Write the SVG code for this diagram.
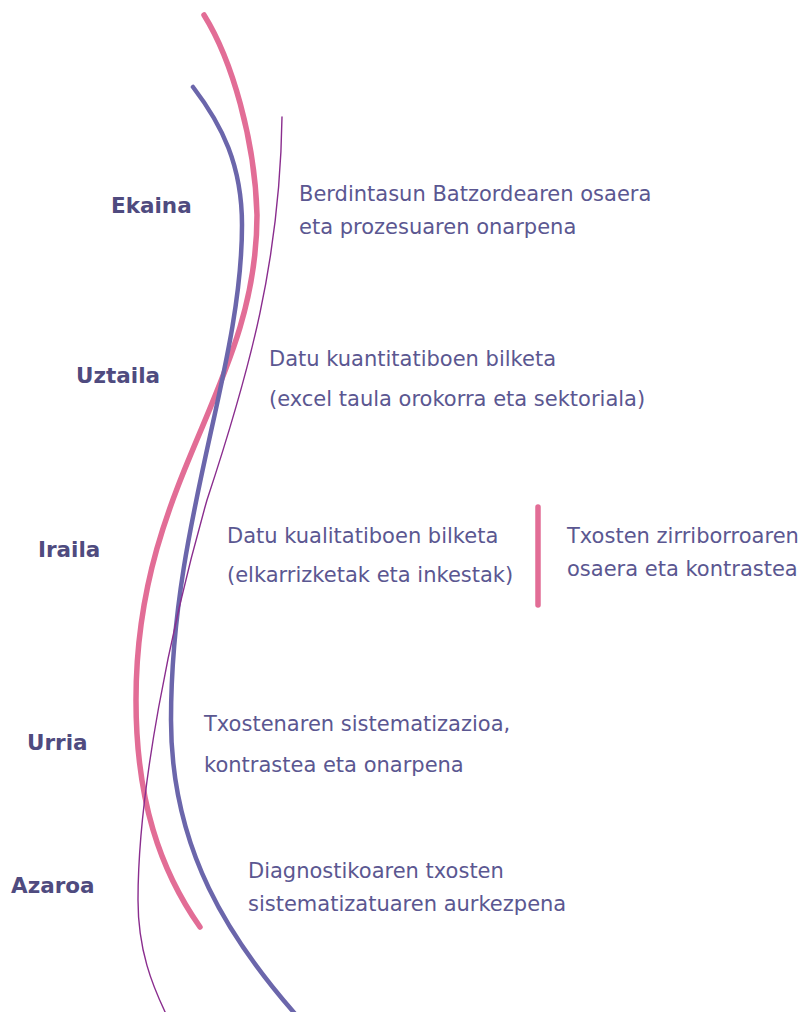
<svg xmlns="http://www.w3.org/2000/svg" width="806" height="1012" viewBox="0 0 806 1012">
<style>
.month{font-family:"DejaVu Sans","Liberation Sans",sans-serif;font-weight:bold;font-size:21.5px;fill:#4F4B7F}
.body{font-family:"DejaVu Sans","Liberation Sans",sans-serif;font-size:21px;fill:#5B5791}
.line{fill:none;stroke-linecap:round}
.pink{stroke:#E26D96;stroke-width:5.5}
.blue{stroke:#6B66AB;stroke-width:4.5}
.thin{stroke:#8A2D8E;stroke-width:1.4}
</style>
<rect width="806" height="1012" fill="#FFFFFF"/>
<g id="timeline-lines">
<path class="line pink" d="M204,15 C232,60 255,140 257,215 C257,390 136,480 136,700 C136,800 160,870 200,927"/>
<path class="line blue" d="M193,87 C222,125 242,165 242,225 C242,370 171,520 171,720 C171,850 230,940 297,1016"/>
<path class="line thin" d="M282,117 C280,260 250,370 207,500 C170,630 138,790 138,900 C138,950 152,985 167,1016"/>
<line class="line pink" x1="538" y1="507" x2="538" y2="605"/>
</g>
<g id="ekaina">
<text class="month" x="111" y="213">Ekaina</text>
<text class="body" x="299" y="201">Berdintasun Batzordearen osaera</text>
<text class="body" x="299" y="234">eta prozesuaren onarpena</text>
</g>
<g id="uztaila">
<text class="month" x="76" y="383">Uztaila</text>
<text class="body" x="269" y="366">Datu kuantitatiboen bilketa</text>
<text class="body" x="269" y="406">(excel taula orokorra eta sektoriala)</text>
</g>
<g id="iraila">
<text class="month" x="38" y="557">Iraila</text>
<text class="body" x="227" y="543">Datu kualitatiboen bilketa</text>
<text class="body" x="227" y="582">(elkarrizketak eta inkestak)</text>
</g>
<g id="zirriborroa">
<text class="body" x="567" y="543">Txosten zirriborroaren</text>
<text class="body" x="567" y="576">osaera eta kontrastea</text>
</g>
<g id="urria">
<text class="month" x="27" y="750">Urria</text>
<text class="body" x="204" y="731">Txostenaren sistematizazioa,</text>
<text class="body" x="204" y="772">kontrastea eta onarpena</text>
</g>
<g id="azaroa">
<text class="month" x="11" y="893">Azaroa</text>
<text class="body" x="248" y="878">Diagnostikoaren txosten</text>
<text class="body" x="248" y="911">sistematizatuaren aurkezpena</text>
</g>
</svg>
